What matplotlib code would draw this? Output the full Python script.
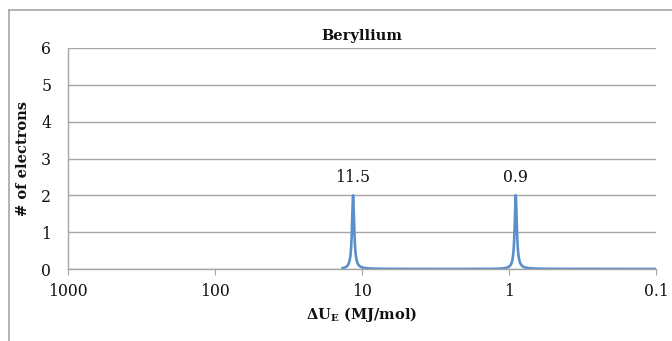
import numpy as np
import matplotlib
matplotlib.use("Agg")
import matplotlib.pyplot as plt
from matplotlib.lines import Line2D

# Ionization energies (MJ/mol) and electron counts for beryllium shells
peak_energies = [11.5, 0.9]
peak_counts = [2, 2]
peak_labels = ["11.5", "0.9"]

# Spectrum range (MJ/mol) and relative Lorentzian width
energy_start = 13.6
energy_end = 0.1
rel_width = 0.02

x_ticks = [1000, 100, 10, 1, 0.1]
x_tick_labels = ["1000", "100", "10", "1", "0.1"]
y_ticks = [0, 1, 2, 3, 4, 5, 6]

plt.rcParams["mathtext.fontset"] = "dejavuserif"

energies = np.logspace(np.log10(energy_start), np.log10(energy_end), 6000)
signal = np.zeros_like(energies)
for e0, n in zip(peak_energies, peak_counts):
    g = rel_width * e0
    signal += n / (1.0 + ((energies - e0) / g) ** 2)

W, H = 672, 341
fig = plt.figure(figsize=(W / 100, H / 100), dpi=100)
ax = fig.add_axes([68 / W, (H - 269) / H, (656 - 68) / W, (269 - 48) / H])

serif = "DejaVu Serif"
grid_color = "#a6a6a6"
text_color = "#111111"

ax.plot(energies, signal, color="#5b8fc9", lw=1.9, solid_capstyle="round")

ax.set_xscale("log")
ax.set_xlim(1000, 0.1)
ax.set_ylim(0, 6)
ax.set_xticks(x_ticks)
ax.set_xticklabels(x_tick_labels)
ax.xaxis.set_minor_locator(matplotlib.ticker.NullLocator())
ax.set_yticks(y_ticks)

ax.yaxis.grid(True, color=grid_color, lw=1.0)
ax.set_axisbelow(True)
for s in ["top", "right"]:
    ax.spines[s].set_visible(False)
for s in ["left", "bottom"]:
    ax.spines[s].set_color(grid_color)
    ax.spines[s].set_linewidth(1.0)

ax.tick_params(axis="x", direction="out", length=4, color=grid_color, pad=6)
ax.tick_params(axis="y", length=0, pad=12)
for lab in ax.get_xticklabels() + ax.get_yticklabels():
    lab.set_fontfamily(serif)
    lab.set_fontsize(11.3)
    lab.set_color(text_color)

for e0, n, lab in zip(peak_energies, peak_counts, peak_labels):
    ax.annotate(lab, (e0, n), xytext=(0, 7), textcoords="offset points",
                ha="center", va="bottom", fontsize=11.3, family=serif, color=text_color)

ax.set_title("Beryllium", fontsize=10.5, fontweight="bold", family=serif, pad=6,
             color=text_color)
ax.set_xlabel(r"$\mathbf{\Delta U_E}$ (MJ/mol)", fontsize=10.5, fontweight="bold",
              family=serif, labelpad=4, color=text_color)
ax.set_ylabel("# of electrons", fontsize=10.5, fontweight="bold", family=serif,
              labelpad=8, color=text_color)

# Outer chart frame (top and left edges)
fig.add_artist(Line2D([9 / W, 1.0], [1 - 10 / H, 1 - 10 / H], transform=fig.transFigure,
                      color=grid_color, lw=1.2))
fig.add_artist(Line2D([9 / W, 9 / W], [1 - 10 / H, 0.0], transform=fig.transFigure,
                      color=grid_color, lw=1.2))

fig.savefig("out.png", dpi=100)
